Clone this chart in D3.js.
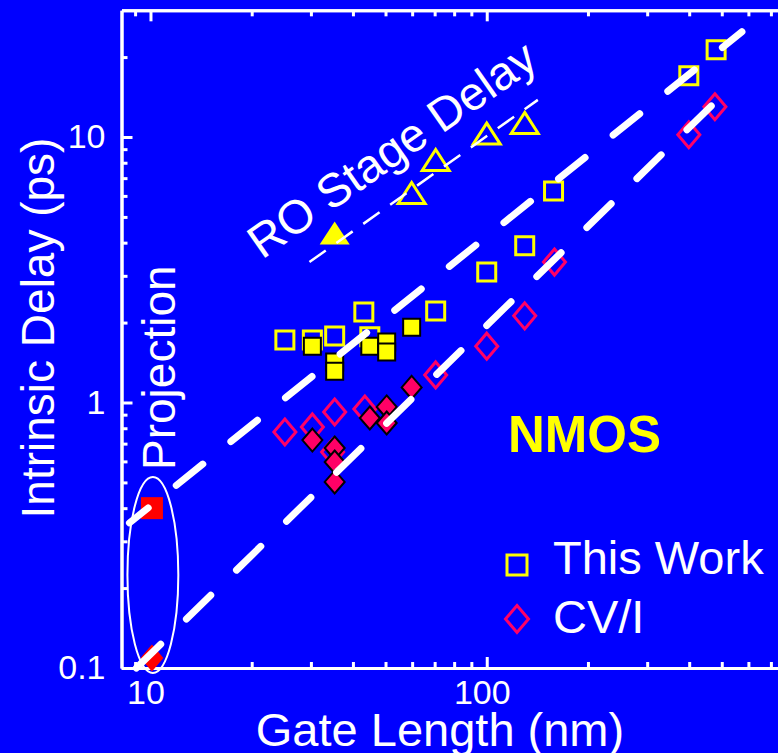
<!DOCTYPE html>
<html>
<head>
<meta charset="utf-8">
<script src="https://cdn.jsdelivr.net/npm/d3@7"></script>
<style>
  body { margin: 0; background: #0000ff; }
  svg { display: block; font-family: "Liberation Sans", Arial, sans-serif; }
  .axis path, .axis line { stroke: #fff; stroke-width: 3; }
  .axis text { fill: #fff; font-size: 34px; font-family: "Liberation Sans", Arial, sans-serif; }
</style>
</head>
<body>
<div id="chart"></div>
<script>

// data: [gate length (nm), intrinsic delay (ps)]
var thisWorkOpen = [[25.1, 1.72], [30.3, 1.72], [35.3, 1.78], [43.1, 2.19], [44.9, 1.77],
  [70.5, 2.21], [100, 3.10], [129.7, 3.89], [158, 6.26], [399, 17.0], [481, 21.3]];
var thisWorkFilled = [[30.3, 1.63], [35.3, 1.42], [35.3, 1.31], [44.9, 1.63],
  [50.4, 1.69], [50.4, 1.55], [59.8, 1.92]];
var cviOpen = [[25.1, 0.774], [30.3, 0.809], [34.8, 0.651], [35.3, 0.921], [43.4, 0.945],
  [70.5, 1.27], [100, 1.63], [129.7, 2.12], [159, 3.38], [399, 10.2], [477, 13.0]];
var cviFilled = [[30.3, 0.722], [35.3, 0.674], [35.3, 0.597], [35.3, 0.502],
  [44.9, 0.874], [50.4, 0.962], [50.4, 0.837], [59.8, 1.14]];
var projSquare = [[10.1, 0.40]];
var projDiamond = [[10.1, 0.109]];
var roFilled = [[35.3, 4.35]];
var roOpen = [[59.8, 6.15], [70.5, 8.19], [100, 10.3], [129.7, 11.3]];

// fitted lines (end points)
var fitUpper = [[8.66, 0.352], [574, 24.9]];
var fitLower = [[9.08, 0.1], [547, 16.0]];
var roFit = [[29.7, 3.38], [141.9, 13.8]];

// projection ellipse extent
var projL = [8.54, 12.1];
var projD = [0.0958, 0.524];

// ticks
var xMajor = [10, 100, 1000];
var xMinor = [9, 20, 30, 40, 50, 60, 70, 80, 90, 200, 300, 400, 500, 600, 700, 800, 900];
var xLabels = {10: "10", 100: "100"};
var yMajor = [0.1, 1, 10];
var yMinor = [0.2, 0.3, 0.4, 0.5, 0.6, 0.7, 0.8, 0.9, 2, 3, 4, 5, 6, 7, 8, 9, 20];
var yLabels = {0.1: "0.1", 1: "1", 10: "10"};

var W = 778, H = 753;
var blue = "#0000ff", yellow = "#ffff00", pink = "#ff0066", red = "#ff0000";

var svg = d3.select("#chart").append("svg")
    .attr("width", W)
    .attr("height", H);

svg.append("rect").attr("width", W).attr("height", H).attr("fill", blue);

var x = d3.scaleLog()
    .domain([8.2, 1000])
    .range([121.5, 823]);

var y = d3.scaleLog()
    .domain([0.1, 30])
    .range([668, 668 - 265.5 * Math.log10(300)]);

var x0 = x.range()[0], yb = y.range()[0], yt = y.range()[1];

// axes
svg.append("g").attr("class", "axis")
    .attr("transform", "translate(0," + yb + ")")
    .call(d3.axisBottom(x).tickValues(xMinor).tickSize(-6).tickSizeOuter(0).tickFormat(""));
svg.append("g").attr("class", "axis")
    .attr("transform", "translate(0," + yb + ")")
    .call(d3.axisBottom(x).tickValues(xMajor).tickSize(-11).tickSizeOuter(0).tickPadding(12)
      .tickFormat(function(d) { return xLabels[d] || ""; }))
  .selectAll("text").attr("dx", -5);

svg.append("g").attr("class", "axis")
    .attr("transform", "translate(0," + yt + ")")
    .call(d3.axisTop(x).tickValues(xMinor).tickSize(-6).tickSizeOuter(0).tickFormat(""));
svg.append("g").attr("class", "axis")
    .attr("transform", "translate(0," + yt + ")")
    .call(d3.axisTop(x).tickValues(xMajor).tickSize(-11).tickSizeOuter(0).tickFormat(""));

svg.append("g").attr("class", "axis")
    .attr("transform", "translate(" + x0 + ",0)")
    .call(d3.axisLeft(y).tickValues(yMinor).tickSize(-6).tickSizeOuter(0).tickFormat(""));
svg.append("g").attr("class", "axis")
    .attr("transform", "translate(" + x0 + ",0)")
    .call(d3.axisLeft(y).tickValues(yMajor).tickSize(-11).tickSizeOuter(0).tickPadding(16)
      .tickFormat(function(d) { return yLabels[d]; }));

// axis titles
svg.append("text")
    .attr("x", 440).attr("y", 746)
    .attr("text-anchor", "middle")
    .attr("fill", "#fff").attr("font-size", 47)
    .text("Gate Length (nm)");

svg.append("text")
    .attr("transform", "translate(54,328) rotate(-90)")
    .attr("text-anchor", "middle")
    .attr("fill", "#fff").attr("font-size", 46)
    .text("Intrinsic Delay (ps)");

// marker helpers
function sq(s) { return "M" + (-s / 2) + "," + (-s / 2) + "h" + s + "v" + s + "h" + (-s) + "Z"; }
function dia(w, h) { return "M0," + (-h / 2) + "L" + (w / 2) + ",0L0," + (h / 2) + "L" + (-w / 2) + ",0Z"; }
function tri(w, h) { return "M0," + (-h / 2) + "L" + (w / 2) + "," + (h / 2) + "L" + (-w / 2) + "," + (h / 2) + "Z"; }

function plot(data, path, fill, stroke, sw) {
  svg.append("g").selectAll("path")
      .data(data)
    .enter().append("path")
      .attr("transform", function(d) { return "translate(" + x(d[0]) + "," + y(d[1]) + ")"; })
      .attr("d", path)
      .attr("fill", fill)
      .attr("stroke", stroke)
      .attr("stroke-width", sw);
}

plot(thisWorkOpen, sq(18), "none", yellow, 3);
plot(cviOpen, dia(22, 26), "none", pink, 3);
plot(thisWorkFilled, sq(17), yellow, "#000", 2);
plot(cviFilled, dia(20, 23), pink, "#000", 2);
plot(projSquare, sq(22), red, "none", 0);
plot(projDiamond, dia(23, 27), red, "none", 0);
plot(roFilled, tri(30, 23), yellow, "none", 0);
plot(roOpen, tri(27, 21), "none", yellow, 3);

// fit lines
var line = d3.line()
    .x(function(d) { return x(d[0]); })
    .y(function(d) { return y(d[1]); });

svg.append("path").datum(fitUpper)
    .attr("d", line).attr("fill", "none")
    .attr("stroke", "#fff").attr("stroke-width", 7)
    .attr("stroke-linecap", "round")
    .attr("stroke-dasharray", "34 36").attr("stroke-dashoffset", 10);

svg.append("path").datum(fitLower)
    .attr("d", line).attr("fill", "none")
    .attr("stroke", "#fff").attr("stroke-width", 7)
    .attr("stroke-linecap", "round")
    .attr("stroke-dasharray", "34 36");

svg.append("path").datum(roFit)
    .attr("d", line).attr("fill", "none")
    .attr("stroke", "#fff").attr("stroke-width", 2.5)
    .attr("stroke-dasharray", "20 13");

// projection ellipse
svg.append("ellipse")
    .attr("cx", (x(projL[0]) + x(projL[1])) / 2)
    .attr("cy", (y(projD[0]) + y(projD[1])) / 2)
    .attr("rx", (x(projL[1]) - x(projL[0])) / 2)
    .attr("ry", (y(projD[0]) - y(projD[1])) / 2)
    .attr("fill", "none").attr("stroke", "#fff").attr("stroke-width", 2);

// annotations
svg.append("text")
    .attr("transform", "translate(175,470) rotate(-90)")
    .attr("fill", "#fff").attr("font-size", 46)
    .text("Projection");

svg.append("text")
    .attr("transform", "translate(262,260) rotate(-35)")
    .attr("fill", "#fff").attr("font-size", 47)
    .text("RO Stage Delay");

svg.append("text")
    .attr("x", 508).attr("y", 452)
    .attr("fill", yellow).attr("font-size", 51).attr("font-weight", "bold")
    .text("NMOS");

// legend
var legend = svg.append("g").attr("transform", "translate(517,0)");
legend.append("path").attr("transform", "translate(0,565)").attr("d", sq(20))
    .attr("fill", "none").attr("stroke", yellow).attr("stroke-width", 3);
legend.append("path").attr("transform", "translate(0,619)").attr("d", dia(23, 27))
    .attr("fill", "none").attr("stroke", pink).attr("stroke-width", 3);
legend.append("text").attr("x", 36).attr("y", 574)
    .attr("fill", "#fff").attr("font-size", 47).text("This Work");
legend.append("text").attr("x", 36).attr("y", 633)
    .attr("fill", "#fff").attr("font-size", 47).text("CV/I");

</script>
</body>
</html>
